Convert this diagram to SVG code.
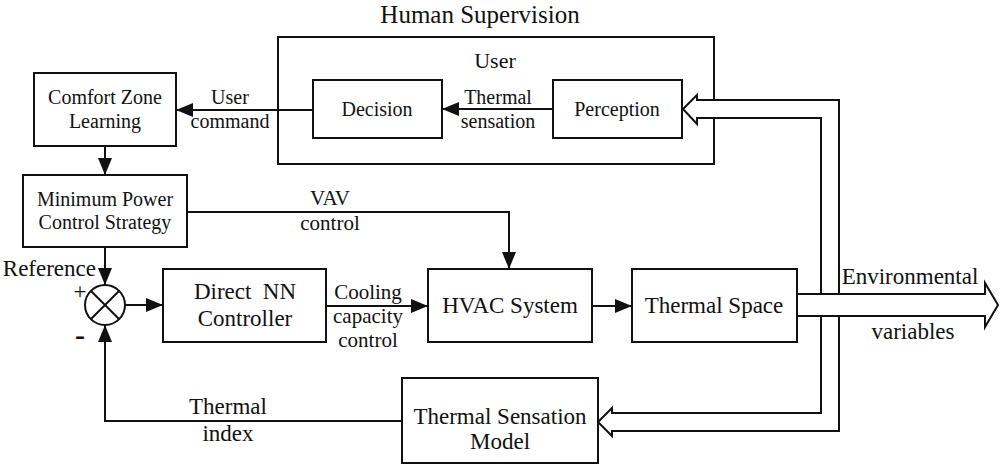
<svg xmlns="http://www.w3.org/2000/svg" width="1001" height="466" viewBox="0 0 1001 466">
  <style>
    .box { fill: #fff; stroke: #111; stroke-width: 2; }
    .line { fill: none; stroke: #111; stroke-width: 2; }
    .hollow { fill: #fff; stroke: #111; stroke-width: 2; stroke-linejoin: miter; }
    .t { font-size: 20px; fill: #111; }
    .m { font-size: 23px; fill: #111; }
    .s { font-size: 21px; fill: #111; }
    .u { font-size: 22px; fill: #111; }
    .h { font-size: 25px; fill: #111; }
    .c { text-anchor: middle; }
  </style>
  <defs>
    <marker id="arrow" viewBox="0 0 17 14" refX="17" refY="7" markerWidth="17" markerHeight="14" markerUnits="userSpaceOnUse" orient="auto">
      <path d="M0,0 L17,7 L0,14 Z" fill="#111"/>
    </marker>
  </defs>

  <rect width="1001" height="466" fill="#fff"/>

  <g font-family="'Liberation Serif', 'DejaVu Serif', 'Times New Roman', serif">
  <text class="h c" x="480" y="23">Human Supervision</text>

  <!-- user group -->
  <g id="user">
    <rect class="box" x="278" y="37" width="436" height="127"/>
    <text class="u c" x="495" y="68">User</text>
  </g>
  <g id="decision">
    <rect class="box" x="313" y="80" width="129" height="58"/>
    <text class="t c" x="377" y="116">Decision</text>
  </g>
  <g id="perception">
    <rect class="box" x="553" y="80" width="129" height="58"/>
    <text class="t c" x="617" y="116">Perception</text>
  </g>

  <g id="comfort-zone">
    <rect class="box" x="34" y="73" width="142" height="73"/>
    <text class="t c" x="105" y="104">Comfort Zone</text>
    <text class="t c" x="105" y="128">Learning</text>
  </g>
  <g id="min-power">
    <rect class="box" x="23" y="175" width="164" height="72"/>
    <text class="t c" x="105" y="206">Minimum Power</text>
    <text class="t c" x="105" y="229">Control Strategy</text>
  </g>

  <g id="summer">
    <circle class="box" cx="105" cy="305" r="20"/>
    <path class="line" d="M91,291 L119,319 M119,291 L91,319" stroke-width="2.5"/>
  </g>

  <g id="nn-controller">
    <rect class="box" x="163" y="269" width="163" height="73"/>
    <text class="m c" x="245" y="299" xml:space="preserve">Direct  NN</text>
    <text class="m c" x="245" y="326">Controller</text>
  </g>
  <g id="hvac">
    <rect class="box" x="428" y="269" width="164" height="73"/>
    <text class="m c" x="510" y="313">HVAC System</text>
  </g>
  <g id="thermal-space">
    <rect class="box" x="632" y="269" width="165" height="73"/>
    <text class="m c" x="714" y="313">Thermal Space</text>
  </g>
  <g id="sensation-model">
    <rect class="box" x="402" y="378" width="196" height="85"/>
    <text class="m c" x="500" y="424">Thermal Sensation</text>
    <text class="m c" x="500" y="449">Model</text>
  </g>

  <g id="connectors">
    <!-- perception to decision -->
    <line class="line" x1="553" y1="109" x2="442" y2="109" marker-end="url(#arrow)"/>
    <!-- decision to comfort zone -->
    <line class="line" x1="313" y1="110" x2="176" y2="110" marker-end="url(#arrow)"/>
    <!-- comfort zone to strategy -->
    <line class="line" x1="105" y1="146" x2="105" y2="175" marker-end="url(#arrow)"/>
    <!-- strategy to summer (reference) -->
    <line class="line" x1="105" y1="247" x2="105" y2="285" marker-end="url(#arrow)"/>
    <!-- VAV control -->
    <polyline class="line" points="187,212 509,212 509,269" marker-end="url(#arrow)"/>
    <!-- summer to controller -->
    <line class="line" x1="125" y1="305" x2="163" y2="305" marker-end="url(#arrow)"/>
    <!-- controller to HVAC -->
    <line class="line" x1="326" y1="306" x2="428" y2="306" marker-end="url(#arrow)"/>
    <!-- HVAC to thermal space -->
    <line class="line" x1="592" y1="306" x2="632" y2="306" marker-end="url(#arrow)"/>
    <!-- feedback -->
    <polyline class="line" points="402,421 105,421 105,325" marker-end="url(#arrow)"/>
    <!-- environmental variables loop to perception and sensation model -->
    <polygon class="hollow" points="697,118 821,118 821,413 612,413 612,408 598,422 612,436 612,431 839,431 839,100 697,100 697,95 683,109 697,124"/>
    <!-- environmental variables output -->
    <polygon class="hollow" points="797,294 985,294 985,283 998,305 985,327 985,316 797,316"/>
  </g>

  <g id="labels">
    <text class="t c" x="498" y="104">Thermal</text>
    <text class="t c" x="498" y="128">sensation</text>
    <text class="t c" x="230" y="104">User</text>
    <text class="t c" x="230" y="128">command</text>
    <text class="s c" x="330" y="205">VAV</text>
    <text class="s c" x="330" y="230">control</text>
    <text class="s c" x="368" y="299">Cooling</text>
    <text class="s c" x="368" y="323">capacity</text>
    <text class="s c" x="368" y="347">control</text>
    <text class="m" x="96" y="276" text-anchor="end">Reference</text>
    <text class="m c" x="80" y="299">+</text>
    <text class="c" x="80" y="345" font-size="30" font-weight="bold" fill="#111">-</text>
    <text class="m c" x="228" y="414">Thermal</text>
    <text class="m c" x="228" y="441">index</text>
    <text class="m c" x="910" y="284">Environmental</text>
    <text class="m c" x="913" y="339">variables</text>
  </g>
  </g>
</svg>
